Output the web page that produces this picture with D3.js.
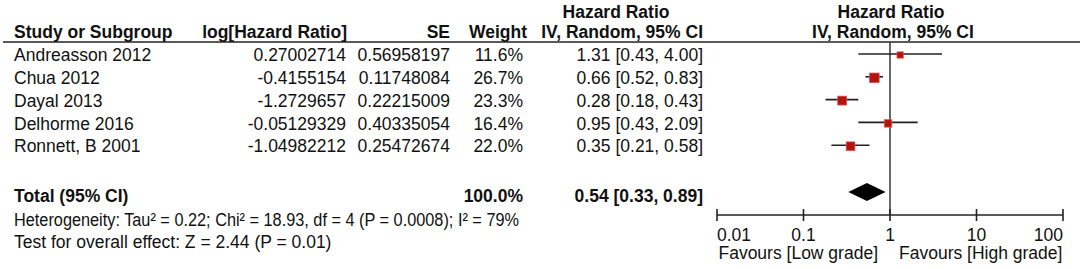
<!DOCTYPE html>
<html>
<head>
<meta charset="utf-8">
<style>
    body { margin: 0; background: #fff; }
    svg text { font-family: 'Liberation Sans', Arial, sans-serif; font-size: 17.5px; fill: #111; }
    .bold { font-weight: bold; }
</style>
</head>
<body>
<svg width="1084" height="269"></svg>

<script src="https://d3js.org/d3.v7.min.js"></script>
<script>
    // study data
    let studies = ["Andreasson 2012", "Chua 2012", "Dayal 2013", "Delhorme 2016", "Ronnett, B 2001"]
    let logHR = ["0.27002714", "-0.4155154", "-1.2729657", "-0.05129329", "-1.04982212"]
    let se = ["0.56958197", "0.11748084", "0.22215009", "0.40335054", "0.25472674"]
    let weights = [11.6, 26.7, 23.3, 16.4, 22.0]
    let hr = [1.31, 0.66, 0.28, 0.95, 0.35]
    let lower = [0.43, 0.52, 0.18, 0.43, 0.21]
    let upper = [4.00, 0.83, 0.43, 2.09, 0.58]

    let total = { hr: 0.54, lo: 0.33, hi: 0.89, weight: 100.0 }
    let heterogeneity = "Heterogeneity: Tau² = 0.22; Chi² = 18.93, df = 4 (P = 0.0008); I² = 79%"
    let overall = "Test for overall effect: Z = 2.44 (P = 0.01)"

    let tickValues = [0.01, 0.1, 1, 10, 100]
    let tickLabels = ["0.01", "0.1", "1", "10", "100"]

    let svg = d3.select("svg")

    // log scale for the plot panel
    let x = d3.scaleLog()
        .domain([0.01, 100])
        .range([717, 1063])

    let y = d3.scaleLinear()
        .domain([0, 1])
        .range([55, 77.8])

    let headerLine = 42
    let axisY = 215
    let totalY = 196

    // column x positions (right edges)
    let colName = 14, colLog = 346, colSE = 450, colW = 523, colCI = 703

    // headers
    svg.append("text").attr("class", "bold").attr("x", 616).attr("y", 12).attr("dy", "0.35em")
        .attr("text-anchor", "middle").text("Hazard Ratio")
    svg.append("text").attr("class", "bold").attr("x", 891).attr("y", 12).attr("dy", "0.35em")
        .attr("text-anchor", "middle").text("Hazard Ratio")

    let heads = [
        { t: "Study or Subgroup", x: colName, a: "start" },
        { t: "log[Hazard Ratio]", x: 347, a: "end" },
        { t: "SE", x: colSE, a: "end" },
        { t: "Weight", x: 527, a: "end" },
        { t: "IV, Random, 95% CI", x: colCI, a: "end" },
        { t: "IV, Random, 95% CI", x: 893, a: "middle" }
    ]
    svg.selectAll(".head")
        .data(heads)
        .join("text")
        .attr("class", "head bold")
        .attr("x", d => d.x)
        .attr("y", 32)
        .attr("dy", "0.35em")
        .attr("text-anchor", d => d.a)
        .text(d => d.t)

    svg.append("line")
        .attr("x1", 3).attr("x2", 1080)
        .attr("y1", headerLine).attr("y2", headerLine)
        .style("stroke", "#222").style("stroke-width", 1.5)

    // table rows
    let rows = studies.map((s, i) => ({
        name: s, log: logHR[i], se: se[i], w: weights[i],
        hr: hr[i], lo: lower[i], hi: upper[i], i: i
    }))

    let f2 = d3.format(".2f")
    let f1 = d3.format(".1f")

    let cols = [
        { x: colName, a: "start", v: d => d.name },
        { x: colLog, a: "end", v: d => d.log },
        { x: colSE, a: "end", v: d => d.se },
        { x: colW, a: "end", v: d => f1(d.w) + "%" },
        { x: colCI, a: "end", v: d => f2(d.hr) + " [" + f2(d.lo) + ", " + f2(d.hi) + "]" }
    ]

    cols.forEach(c => {
        svg.selectAll(null)
            .data(rows)
            .join("text")
            .attr("x", c.x)
            .attr("y", d => y(d.i))
            .attr("dy", "0.35em")
            .attr("text-anchor", c.a)
            .text(c.v)
    })

    // total row
    svg.append("text").attr("class", "bold").attr("x", colName).attr("y", totalY).attr("dy", "0.35em")
        .text("Total (95% CI)")
    svg.append("text").attr("class", "bold").attr("x", colW).attr("y", totalY).attr("dy", "0.35em")
        .attr("text-anchor", "end").text(f1(total.weight) + "%")
    svg.append("text").attr("class", "bold").attr("x", colCI).attr("y", totalY).attr("dy", "0.35em")
        .attr("text-anchor", "end")
        .text(f2(total.hr) + " [" + f2(total.lo) + ", " + f2(total.hi) + "]")

    // heterogeneity line is set a little tighter in the original
    svg.append("text").attr("x", colName).attr("y", 220).attr("dy", "0.35em")
        .attr("textLength", 505).attr("lengthAdjust", "spacingAndGlyphs")
        .text(heterogeneity)
    svg.append("text").attr("x", colName).attr("y", 242).attr("dy", "0.35em").text(overall)

    // line of no effect
    svg.append("line")
        .attr("x1", x(1)).attr("x2", x(1))
        .attr("y1", headerLine).attr("y2", axisY)
        .style("stroke", "#444").style("stroke-width", 1.6)

    // confidence intervals
    svg.selectAll(".ci")
        .data(rows)
        .join("line")
        .attr("class", "ci")
        .attr("x1", d => x(d.lo))
        .attr("x2", d => x(d.hi))
        .attr("y1", d => y(d.i) - 1)
        .attr("y2", d => y(d.i) - 1)
        .style("stroke", "#222")
        .style("stroke-width", 1.6)

    // squares sized by weight
    let side = d3.scaleSqrt().domain([0, 26.7]).range([0, 9.5])
    svg.selectAll(".sq")
        .data(rows)
        .join("rect")
        .attr("class", "sq")
        .attr("x", d => x(d.hr) - side(d.w) / 2)
        .attr("y", d => y(d.i) - side(d.w) / 2)
        .attr("width", d => side(d.w))
        .attr("height", d => side(d.w))
        .style("fill", "#b5120e")
        .style("stroke", "#d9534f")
        .style("stroke-width", 0.8)

    // pooled diamond
    let dy = 9
    let dmid = 192
    svg.append("path")
        .attr("d", "M" + x(total.lo) + "," + dmid +
            "L" + x(total.hr) + "," + (dmid - dy) +
            "L" + x(total.hi) + "," + dmid +
            "L" + x(total.hr) + "," + (dmid + dy) + "Z")
        .style("fill", "#000")

    // axis
    let axis = svg.append("g")
    axis.append("line")
        .attr("x1", x(0.01)).attr("x2", x(100))
        .attr("y1", axisY).attr("y2", axisY)
        .style("stroke", "#222").style("stroke-width", 1.6)

    axis.selectAll(".tick")
        .data(tickValues)
        .join("line")
        .attr("class", "tick")
        .attr("x1", d => x(d)).attr("x2", d => x(d))
        .attr("y1", axisY - 6).attr("y2", axisY + 6)
        .style("stroke", "#222").style("stroke-width", 1.6)

    axis.selectAll(".tlab")
        .data(tickValues)
        .join("text")
        .attr("class", "tlab")
        .attr("x", d => x(d))
        .attr("y", 235)
        .attr("dy", "0.35em")
        .attr("text-anchor", (d, i) => i == 0 ? "start" : (i == tickValues.length - 1 ? "end" : "middle"))
        .text((d, i) => tickLabels[i])

    svg.append("text").attr("x", 878).attr("y", 253).attr("dy", "0.35em")
        .attr("text-anchor", "end").text("Favours [Low grade]")
    svg.append("text").attr("x", 899).attr("y", 253).attr("dy", "0.35em")
        .text("Favours [High grade]")
</script>
</body>
</html>
